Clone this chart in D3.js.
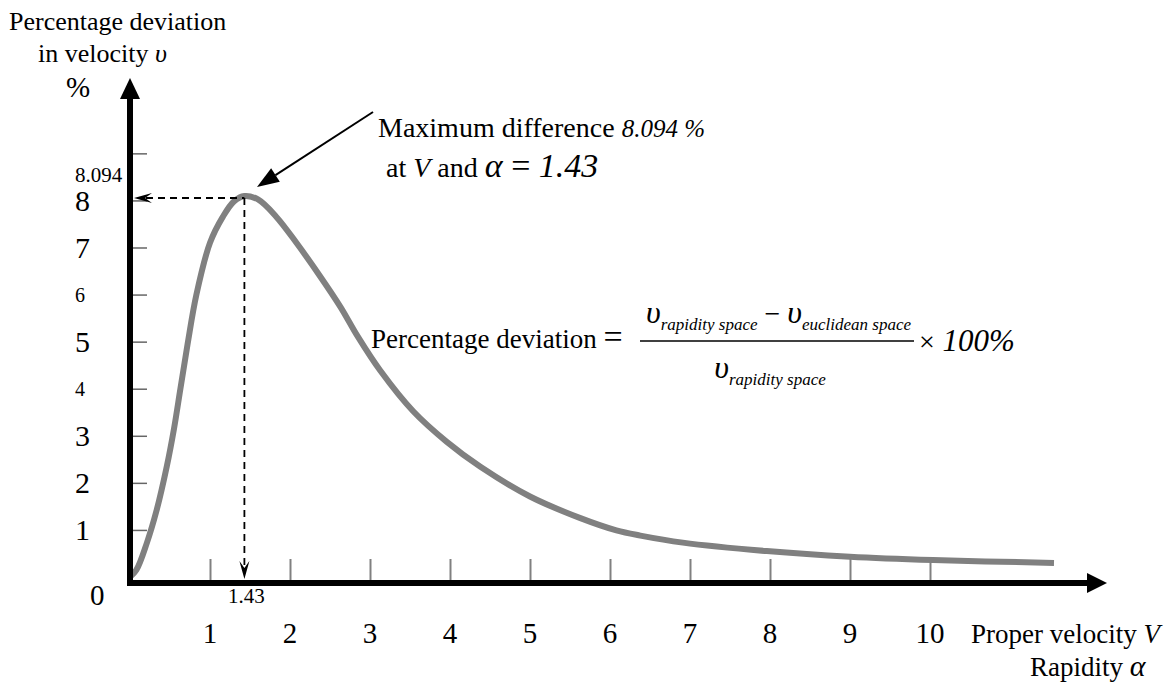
<!DOCTYPE html>
<html>
<head>
<meta charset="utf-8">
<script src="https://cdn.jsdelivr.net/npm/d3@7/dist/d3.min.js"></script>
<style>
body { margin: 0; background: #fff; }
text { font-family: "Liberation Serif", "Times New Roman", serif; fill: #000; }
</style>
</head>
<body>
<div id="chart"></div>
<script>
// curve (rapidity / proper velocity vs % deviation)
var xValues = [0, 0.08, 0.21, 0.33, 0.46, 0.55, 0.63, 0.72, 0.83, 1.0, 1.16, 1.3, 1.43, 1.6, 1.83, 2.08, 2.38, 2.63, 2.85, 3.13, 3.54, 3.96, 4.38, 5.0, 5.63, 6.08, 6.38, 6.91, 7.96, 9.0, 10.04, 11.55];
var yValues = [0, 0.15, 0.72, 1.4, 2.35, 3.15, 4.0, 4.95, 6.0, 7.1, 7.65, 7.98, 8.094, 8.02, 7.65, 7.1, 6.38, 5.74, 5.1, 4.38, 3.52, 2.87, 2.34, 1.71, 1.25, 0.99, 0.88, 0.73, 0.55, 0.43, 0.36, 0.30];

var xTicks = [1, 2, 3, 4, 5, 6, 7, 8, 9, 10];
var xTickLabels = ["1", "2", "3", "4", "5", "6", "7", "8", "9", "10"];
var yTicks = [1, 2, 3, 4, 5, 6, 7, 8, 9];
var yLabelValues = [1, 2, 3, 4, 5, 6, 7, 8];
var yTickLabels = ["1", "2", "3", "4", "5", "6", "7", "8"];

var peakX = 1.43, peakY = 8.094;

var width = 1171, height = 689;
var axisY = 583, axisX = 130;

var svg = d3.select("#chart").append("svg")
    .attr("width", width)
    .attr("height", height);

var x = d3.scaleLinear().domain([0, 12]).range([130, 1090]);
var y = d3.scaleLinear().domain([0, peakY]).range([577, 196]);

// tick marks
var xAxis = svg.append("g")
    .attr("transform", "translate(0," + (axisY - 3) + ")")
    .call(d3.axisBottom(x).tickValues(xTicks).tickSize(-21).tickFormat(""));
xAxis.select(".domain").remove();
xAxis.selectAll(".tick line").attr("stroke", "#808080").attr("stroke-width", 2);

var yAxis = svg.append("g")
    .attr("transform", "translate(" + (axisX + 3) + ",0)")
    .call(d3.axisLeft(y).tickValues(yTicks).tickSize(-14).tickFormat(""));
yAxis.select(".domain").remove();
yAxis.selectAll(".tick line").attr("stroke", "#666").attr("stroke-width", 1.5);

// the curve
var line = d3.line()
    .x(function(d, i) { return x(xValues[i]); })
    .y(function(d, i) { return y(yValues[i]); })
    .curve(d3.curveCatmullRom.alpha(0.5));

svg.append("path")
    .datum(xValues)
    .attr("d", line)
    .attr("fill", "none")
    .attr("stroke", "#808080")
    .attr("stroke-width", 6)
    .attr("stroke-linecap", "butt");

// axes with arrows
svg.append("line")
    .attr("x1", axisX).attr("y1", axisY + 3)
    .attr("x2", axisX).attr("y2", 96)
    .attr("stroke", "#000").attr("stroke-width", 6);
svg.append("path")
    .attr("d", "M" + axisX + ",78 L" + (axisX - 10) + ",99 L" + (axisX + 10) + ",99 Z")
    .attr("fill", "#000");

svg.append("line")
    .attr("x1", axisX - 3).attr("y1", axisY)
    .attr("x2", 1090).attr("y2", axisY)
    .attr("stroke", "#000").attr("stroke-width", 6);
svg.append("path")
    .attr("d", "M1107," + axisY + " L1087," + (axisY - 10) + " L1087," + (axisY + 10) + " Z")
    .attr("fill", "#000");

// dashed guides to the maximum
var px = x(peakX), py = y(peakY) + 2;
svg.append("line")
    .attr("x1", axisX + 16).attr("y1", py)
    .attr("x2", px).attr("y2", py)
    .attr("stroke", "#000").attr("stroke-width", 1.8)
    .attr("stroke-dasharray", "7,5");
svg.append("path")
    .attr("d", "M" + (axisX + 4) + "," + py + " L" + (axisX + 22) + "," + (py - 5) +
               " L" + (axisX + 15) + "," + py + " L" + (axisX + 22) + "," + (py + 5) + " Z")
    .attr("fill", "#000");

svg.append("line")
    .attr("x1", px).attr("y1", py)
    .attr("x2", px).attr("y2", axisY - 16)
    .attr("stroke", "#000").attr("stroke-width", 1.8)
    .attr("stroke-dasharray", "7,5");
svg.append("path")
    .attr("d", "M" + px + "," + (axisY - 4) + " L" + (px - 5) + "," + (axisY - 22) +
               " L" + px + "," + (axisY - 15) + " L" + (px + 5) + "," + (axisY - 22) + " Z")
    .attr("fill", "#000");

// annotation arrow
var ax0 = 373, ay0 = 112, ax1 = 257, ay1 = 187;
var dx = ax1 - ax0, dy = ay1 - ay0, len = Math.sqrt(dx * dx + dy * dy);
var ux = dx / len, uy = dy / len;
var hl = 22, hw = 8;
svg.append("line")
    .attr("x1", ax0).attr("y1", ay0)
    .attr("x2", ax1 - ux * hl).attr("y2", ay1 - uy * hl)
    .attr("stroke", "#000").attr("stroke-width", 2);
svg.append("path")
    .attr("d", "M" + ax1 + "," + ay1 +
               " L" + (ax1 - ux * hl - uy * hw) + "," + (ay1 - uy * hl + ux * hw) +
               " L" + (ax1 - ux * hl + uy * hw) + "," + (ay1 - uy * hl - ux * hw) + " Z")
    .attr("fill", "#000");

// y labels
svg.selectAll(".ylab")
    .data(yLabelValues)
    .enter().append("text")
    .attr("class", "ylab")
    .attr("x", 75)
    .attr("y", function(d) { return y(d); })
    .attr("dominant-baseline", "central")
    .style("font-size", function(d) { return (d === 4 || d === 6) ? "20px" : "30px"; })
    .text(function(d, i) { return yTickLabels[i]; });

svg.append("text").attr("x", 75).attr("y", 182).style("font-size", "21px").text("8.094");
svg.append("text").attr("x", 90).attr("y", 605).style("font-size", "29px").text("0");
svg.append("text").attr("x", px + 2).attr("y", 603).attr("text-anchor", "middle")
    .style("font-size", "21px").text("1.43");

// x labels
svg.selectAll(".xlab")
    .data(xTicks)
    .enter().append("text")
    .attr("class", "xlab")
    .attr("x", function(d) { return x(d); })
    .attr("y", 643)
    .attr("text-anchor", "middle")
    .style("font-size", "29px")
    .text(function(d, i) { return xTickLabels[i]; });

var xt = svg.append("text").attr("x", 971).attr("y", 643).style("font-size", "27px");
xt.append("tspan").text("Proper velocity ");
xt.append("tspan").style("font-style", "italic").text("V");

var rt = svg.append("text").attr("x", 1030).attr("y", 676).style("font-size", "27px");
rt.append("tspan").text("Rapidity ");
rt.append("tspan").style("font-style", "italic").style("font-size", "30px").text("α");

// y title
svg.append("text").attr("x", 9).attr("y", 30).style("font-size", "26px").text("Percentage deviation");
var vt = svg.append("text").attr("x", 38).attr("y", 62).style("font-size", "26px");
vt.append("tspan").text("in  velocity ");
vt.append("tspan").style("font-style", "italic").text("υ");
svg.append("text").attr("x", 66).attr("y", 97).style("font-size", "29px").text("%");

// maximum annotation
var m1 = svg.append("text").attr("x", 378).attr("y", 137).style("font-size", "28px");
m1.append("tspan").text("Maximum difference ");
m1.append("tspan").style("font-style", "italic").style("font-size", "25px").text("8.094 %");
var m2 = svg.append("text").attr("x", 386).attr("y", 177).style("font-size", "28px");
m2.append("tspan").text("at ");
m2.append("tspan").style("font-style", "italic").text("V");
m2.append("tspan").text(" and ");
m2.append("tspan").style("font-style", "italic").style("font-size", "34px").text("α");
m2.append("tspan").style("font-size", "34px").text("  = ");
m2.append("tspan").style("font-style", "italic").style("font-size", "34px").text("1.43");

// formula
var lhs = svg.append("text").attr("x", 371).attr("y", 348).style("font-size", "27px");
lhs.append("tspan").text("Percentage deviation ");
lhs.append("tspan").style("font-size", "34px").text("=");

var num = svg.append("text").attr("x", 646).attr("y", 323);
num.append("tspan").style("font-style", "italic").style("font-size", "32px").text("υ");
num.append("tspan").style("font-style", "italic").style("font-size", "17px").attr("dy", 7).text("rapidity space");
num.append("tspan").style("font-size", "28px").attr("dy", -7).text(" − ");
num.append("tspan").style("font-style", "italic").style("font-size", "32px").text("υ");
num.append("tspan").style("font-style", "italic").style("font-size", "17px").attr("dy", 7).text("euclidean space");

svg.append("line")
    .attr("x1", 640).attr("y1", 341).attr("x2", 914).attr("y2", 341)
    .attr("stroke", "#000").attr("stroke-width", 1.5);

var den = svg.append("text").attr("x", 770).attr("y", 378).attr("text-anchor", "middle");
den.append("tspan").style("font-style", "italic").style("font-size", "32px").text("υ");
den.append("tspan").style("font-style", "italic").style("font-size", "17px").attr("dy", 7).text("rapidity space");

var mul = svg.append("text").attr("x", 919).attr("y", 351);
mul.append("tspan").style("font-size", "28px").text("×");
mul.append("tspan").style("font-style", "italic").style("font-size", "31px").text(" 100%");
</script>
</body>
</html>
